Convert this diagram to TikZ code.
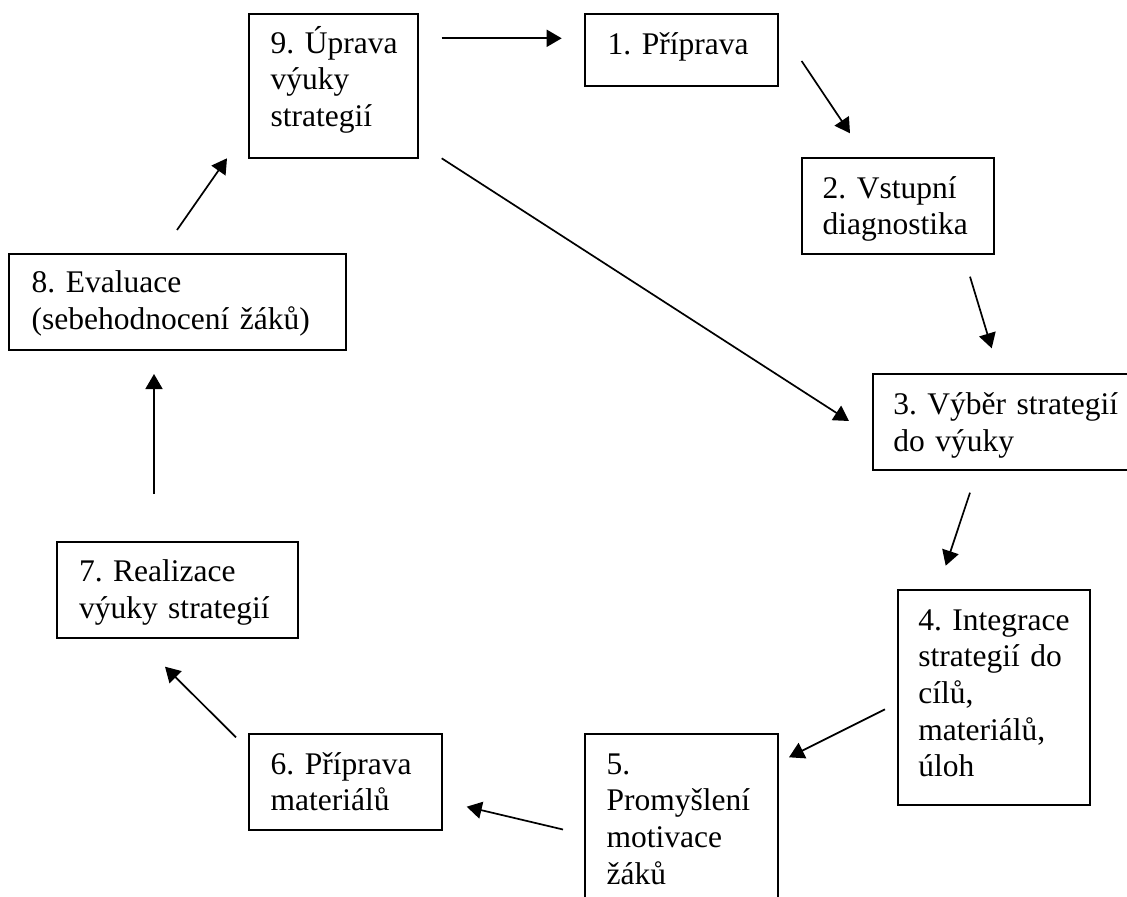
\documentclass[tikz,border=0pt]{standalone}
\usepackage{fontspec}
\setmainfont{Liberation Serif}
\usetikzlibrary{arrows.meta}
\frenchspacing
\begin{document}
\begin{tikzpicture}[x=0.5pt,y=-0.5pt,
  boxst/.style={draw=black, line width=1.1pt, rectangle, inner sep=0pt, outer sep=0pt, anchor=north west},
  txt/.style={anchor=base west, inner sep=0pt, outer sep=0pt, align=left, text width=#1,
    font=\frenchspacing\fontsize{15.75pt}{18.35pt}\selectfont},
  arr/.style={draw=black, line width=0.85pt, -{Triangle[length=7.5pt,width=8.5pt]}}]
\useasboundingbox (0,0) rectangle (1127,897);
% boxes
\node[boxst, minimum width=84.5pt,  minimum height=71.85pt] (b9) at (249.3,14) {};
\node[boxst, minimum width=96.65pt, minimum height=36pt]    (b1) at (585,14) {};
\node[boxst, minimum width=96.15pt, minimum height=48.15pt] (b2) at (801.7,157.7) {};
\node[boxst, minimum width=135.85pt,minimum height=48pt]    (b3) at (873.3,374) {};
\node[boxst, minimum width=96.15pt, minimum height=107.5pt] (b4) at (897.7,590) {};
\node[boxst, minimum width=96.65pt, minimum height=98pt]    (b5) at (585,734) {};
\node[boxst, minimum width=96.5pt,  minimum height=48pt]    (b6) at (249.3,734) {};
\node[boxst, minimum width=120.5pt, minimum height=48pt]    (b7) at (57.3,541.7) {};
\node[boxst, minimum width=168.5pt, minimum height=48pt]    (b8) at (9,254) {};
% texts
\node[txt=71.8pt]  (t9) at (270.7,53.3) {9. Úprava\\výuky\\strategií};
\node[txt=83pt]    (t1) at (607.7,54.3) {1. Příprava};
\node[txt=83.5pt]  (t2) at (822.7,198.3) {2. Vstupní\\diagnostika};
\node[txt=118pt]   (t3) at (893.3,415) {3. Výběr strategií\\do výuky};
\node[txt=83.8pt]  (t4) at (918.3,630) {4. Integrace\\strategií do\\cílů,\\materiálů,\\úloh};
\node[txt=83.8pt]  (t5) at (606.7,774) {5.\\Promyšlení\\motivace\\žáků};
\node[txt=83.8pt]  (t6) at (270.7,774) {6. Příprava\\materiálů};
\node[txt=107.6pt] (t7) at (79,581.7) {7. Realizace\\výuky strategií};
\node[txt=155pt]   (t8) at (31.7,292.7) {8. Evaluace\\(sebehodnocení žáků)};
% arrow end points
\coordinate (p91s) at (441.7,38.3);  \coordinate (p91e) at (561.7,38.3);
\coordinate (p12s) at (801.6,61);    \coordinate (p12e) at (850,133.3);
\coordinate (p23s) at (970,276.7);   \coordinate (p23e) at (991.7,348.3);
\coordinate (p93s) at (441.7,158.3); \coordinate (p93e) at (849,421);
\coordinate (p34s) at (970,492.7);   \coordinate (p34e) at (945.7,565.7);
\coordinate (p45s) at (885,709.3);   \coordinate (p45e) at (789,757.3);
\coordinate (p56s) at (563,829.5);   \coordinate (p56e) at (466.7,806.7);
\coordinate (p67s) at (236,737.3);   \coordinate (p67e) at (165,666.7);
\coordinate (p78s) at (154,494);     \coordinate (p78e) at (154,374);
\coordinate (p89s) at (177,230);     \coordinate (p89e) at (227,158.3);
% arrows
\draw[arr] (p91s) -- (p91e);
\draw[arr] (p12s) -- (p12e);
\draw[arr] (p23s) -- (p23e);
\draw[arr] (p93s) -- (p93e);
\draw[arr] (p34s) -- (p34e);
\draw[arr] (p45s) -- (p45e);
\draw[arr] (p56s) -- (p56e);
\draw[arr] (p67s) -- (p67e);
\draw[arr] (p78s) -- (p78e);
\draw[arr] (p89s) -- (p89e);
\end{tikzpicture}
\end{document}
